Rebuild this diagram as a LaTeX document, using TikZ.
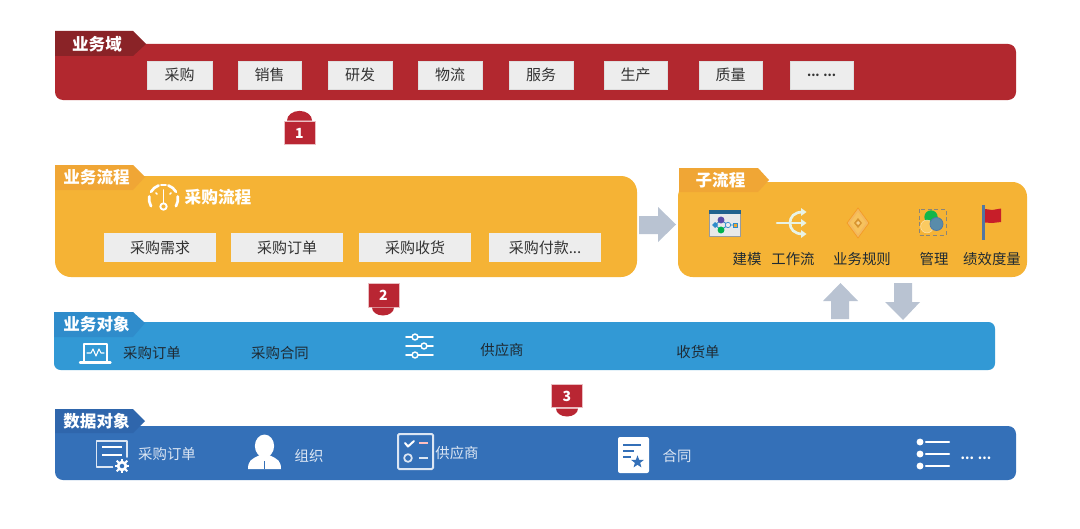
\documentclass[tikz,border=0pt]{standalone}
\usepackage{fontspec}
\setmainfont{Noto Sans CJK SC}
\usetikzlibrary{shapes.geometric}
\definecolor{cRed}{HTML}{B2282F}
\definecolor{cRedT}{HTML}{8A2327}
\definecolor{cOr}{HTML}{F5B335}
\definecolor{cOrT}{HTML}{F0A635}
\definecolor{cBl}{HTML}{3299D5}
\definecolor{cBlT}{HTML}{2F8CCB}
\definecolor{cDb}{HTML}{3470B8}
\definecolor{cDbT}{HTML}{2F66AC}
\definecolor{cBox}{HTML}{EDEDED}
\definecolor{cTxt}{HTML}{333333}
\definecolor{cArr}{HTML}{B9C3D2}
\definecolor{cBadge}{HTML}{B92633}
\definecolor{cDark}{HTML}{1F2A33}
\definecolor{cPale}{HTML}{DCE6F3}
\definecolor{cFlow}{HTML}{E8F3E6}
\tikzset{
  panel/.style={rectangle,inner sep=0pt,outer sep=0pt,rounded corners=#1,anchor=north west},
  panel/.default=6pt,
  itembox/.style={rectangle,fill=cBox,draw=white!75!gray,line width=.4pt,inner sep=0pt,text=cTxt,font=\fontsize{11.25}{12}\selectfont,minimum height=21.5pt},
  tabtext/.style={text=white,font=\fontsize{12.4}{13}\selectfont\bfseries,inner sep=0pt},
  lab/.style={inner sep=0pt,font=\fontsize{10.8}{12}\selectfont},
  darklab/.style={lab,text=cDark},
  palelab/.style={lab,text=cPale},
  badge/.style={rectangle,fill=cBadge,draw=white!70!cBadge,line width=.5pt,inner sep=0pt,minimum width=23.2pt,minimum height=17.6pt,text=white,font=\fontsize{10.5}{11}\selectfont\bfseries},
  ico/.style={draw=white,line width=1.3pt,line cap=round,line join=round},
}
\begin{document}
\begin{tikzpicture}[x=0.75pt,y=-0.75pt]
\useasboundingbox (0,0) rectangle (1080,528);
\fill[white] (0,0) rectangle (1080,528);

% ---------- panels
\node[panel=6pt,fill=cRed,minimum width=720.75pt,minimum height=42pt] (red) at (55,44) {};
\node[panel=12pt,fill=cOr,minimum width=436.5pt,minimum height=75.75pt] (orange) at (55,176) {};
\node[panel=11pt,fill=cOr,minimum width=261.75pt,minimum height=71.25pt] (sub) at (678,182) {};
\node[panel=5pt,fill=cBl,minimum width=705.75pt,minimum height=36pt] (blue) at (54,322) {};
\node[panel=6pt,fill=cDb,minimum width=720.75pt,minimum height=40.5pt] (dblue) at (55,426) {};

% ---------- tabs
\fill[cRedT] (55,31) -- (133,31) -- (146,44) -- (133,56) -- (55,56) -- cycle;
\node[tabtext] (t1) at (97,44) {业务域};
\fill[cOrT] (55,165) -- (133,165) -- (145,177) -- (133,190) -- (55,190) -- cycle;
\node[tabtext] (t2) at (96.5,177) {业务流程};
\fill[cOrT] (679,168) -- (758,168) -- (769,180) -- (758,192) -- (679,192) -- cycle;
\node[tabtext] (t3) at (720.5,180) {子流程};
\fill[cBlT] (54,312) -- (133,312) -- (145,323) -- (133,337) -- (54,337) -- cycle;
\node[tabtext] (t4) at (96.5,324) {业务对象};
\fill[cDbT] (55,409) -- (133,409) -- (145,421) -- (133,433) -- (55,433) -- cycle;
\node[tabtext] (t5) at (96.5,421) {数据对象};

% ---------- domain boxes
\foreach \n/\cx/\w/\t in {a/179.5/48.5/采购,b/269.5/47.5/销售,c/360/48/研发,d/450/48/物流,e/541/48/服务,f/635.5/47.5/生产,g/730.5/47.5/质量}{
  \node[itembox,minimum width=\w pt] (dom\n) at (\cx,75.2) {\t};
}
\node[itembox,minimum width=47.5pt,font=\fontsize{9}{10}\selectfont\bfseries] (domh) at (821.5,75.2) {\raisebox{-1.5pt}{... ...}};

% ---------- process boxes
\foreach \n/\cx/\t in {a/160/采购需求,b/287/采购订单,c/415/采购收货}{
  \node[itembox,minimum width=84pt,minimum height=22pt,draw=none] (proc\n) at (\cx,247.5) {\t};
}
\node[itembox,minimum width=84pt,minimum height=22pt,draw=none] (procd) at (545,247.5) {采购付款...};
\node[text=white,inner sep=0pt,font=\fontsize{12.5}{13}\selectfont\bfseries] (proct) at (218,197) {采购流程};

% gauge icon
\draw[ico,line width=2pt] ([shift={(210:10.8pt)}]163.5,199) arc[start angle=210,end angle=170,radius=10.8pt];
\draw[ico,line width=2pt] ([shift={(150:10.8pt)}]163.5,199) arc[start angle=150,end angle=110,radius=10.8pt];
\draw[ico,line width=2pt] ([shift={(70:10.8pt)}]163.5,199) arc[start angle=70,end angle=30,radius=10.8pt];
\draw[ico,line width=2pt] ([shift={(10:10.8pt)}]163.5,199) arc[start angle=10,end angle=-30,radius=10.8pt];
\draw[ico,line width=1.4pt] ([shift={(100:10.8pt)}]163.5,199) arc[start angle=100,end angle=80,radius=10.8pt];
\draw[ico,line width=1.4pt] (163.5,190) -- (163.5,203);
\draw[ico,line width=1.4pt] (163.5,206.5) circle[radius=2.4pt];
\draw[ico] (156,193) -- (157,194) (171,193) -- (170,194);

% ---------- badges
\node[badge] (b1) at (299.5,133) {1};
\fill[cBadge] (287,120.5) arc[start angle=180,end angle=0,x radius=9.4pt,y radius=7.2pt];
\node[badge] (b2) at (383.5,295.5) {2};
\fill[cBadge] (372,307.5) arc[start angle=180,end angle=360,x radius=8.25pt,y radius=6pt];
\node[badge] (b3) at (567,396) {3};
\fill[cBadge] (556,408.5) arc[start angle=180,end angle=360,x radius=8.25pt,y radius=6pt];

% ---------- block arrows
\fill[cArr] (639,216) -- (658,216) -- (658,207) -- (676,224.5) -- (658,242) -- (658,234) -- (639,234) -- cycle;
\fill[cArr] (831,319) -- (831,301) -- (823,301) -- (840.5,283) -- (858,301) -- (849,301) -- (849,319) -- cycle;
\fill[cArr] (894,283) -- (912,283) -- (912,302) -- (920,302) -- (903,320) -- (885,302) -- (894,302) -- cycle;

% ---------- sub-process labels
\foreach \n/\cx/\t in {a/747/建模,b/793/工作流,c/862/业务规则,d/934/管理,e/992/绩效度量}{
  \node[darklab] (sub\n) at (\cx,259.5) {\t};
}
% modelling icon
\fill[gray!60!cArr] (709,210) rectangle (741,236.5);
\fill[cBox!90!cArr] (710,214) rectangle (740,235.5);
\fill[cBlT!70!black] (709,210) rectangle (741,214);
\draw[cBlT,line width=.7pt] (715,225) -- (721,220) -- (728,225) -- (721,230) -- cycle (728,225) -- (735,225);
\fill[cBlT] (715,222) -- (718,225) -- (715,228) -- (712,225) -- cycle;
\fill[violet!50!cBl] (721,220) circle[radius=2.6pt];
\fill[green!40!teal] (721,230) circle[radius=2.6pt];
\fill[cBox] (728,225) circle[radius=2pt];
\draw[cBlT,line width=.5pt] (728,225) circle[radius=2pt];
\fill[cOrT] (733,223) rectangle (737,227);
\draw[cBlT,line width=.4pt] (733,223) rectangle (737,227);
% workflow icon
\draw[cFlow,line width=2pt,line cap=round] (777,223) -- (804,223);
\draw[cFlow,line width=2pt] (803,212) .. controls (794,212) and (790,217) .. (790,223) .. controls (790,229) and (794,234) .. (803,234);
\fill[cFlow] (801,208) -- (806.5,212) -- (801,216) -- cycle (801,219) -- (806.5,223) -- (801,227) -- cycle (801,230) -- (806.5,234) -- (801,238) -- cycle;
% rule icon
\fill[white!20!cOrT,draw=orange!30!cOrT,line width=.5pt] (858,208) -- (869,223) -- (858,238) -- (847,223) -- cycle;
\fill[cOr!80!white] (858,212) -- (866,223) -- (858,234) -- (850,223) -- cycle;
\fill[cOrT!90!black] (858,218) -- (862,223) -- (858,228) -- (854,223) -- cycle;
\fill[cOr!60!white] (858,221) -- (860,223) -- (858,225) -- (856,223) -- cycle;
% management icon
\draw[gray!90!cOr,densely dashed,line width=.5pt] (919,209) rectangle (946,235);
\fill[green!50!teal!85!gray] (931,217) circle[radius=5pt];
\fill[yellow!35!orange!60!white,draw=white!60!cOr,line width=.4pt] (927,226.5) circle[radius=4.8pt];
\fill[cBl!50!gray,draw=cDb!70!gray,line width=.5pt] (936.5,224) circle[radius=4.9pt];
% flag icon
\fill[gray!40!cDb] (982,205) rectangle (984.5,240);
\fill[cBadge!80!red] (985,209) -- (992,210) -- (1001,208.5) -- (1001,222) -- (992,223) -- (985,222.5) -- cycle;

% ---------- business objects
\node[darklab] (ob1) at (152,353.5) {采购订单};
\node[darklab] (ob2) at (280,353.5) {采购合同};
\node[darklab] (ob3) at (502,350) {供应商};
\node[darklab] (ob4) at (698,352) {收货单};
% monitor icon
\draw[ico] (84,361) -- (84,344) -- (107,344) -- (107,361);
\draw[ico,line width=1.8pt] (80,362.5) -- (110.5,362.5);
\draw[ico,line width=.8pt] (87,353) -- (91,353) -- (93,349) -- (96,356) -- (99,349) -- (101,353) -- (104,353);
% slider icon
\draw[ico] (406,337) -- (433,337) (406,346) -- (433,346) (406,355) -- (433,355);
\foreach \n/\kx/\ky in {a/415/337,b/424/346,c/415/355}{
  \draw[ico,line width=1.1pt,fill=cBl] (\kx,\ky) circle[radius=2.2pt];
}

% ---------- data objects
\node[palelab] (da1) at (167,454.5) {采购订单};
\node[palelab] (da2) at (309,456) {组织};
\node[palelab] (da3) at (457,453) {供应商};
\node[palelab] (da4) at (677,456) {合同};
\node[text=white,inner sep=0pt,font=\fontsize{9.5}{11}\selectfont\bfseries] (da5) at (976,458) {... ...};
% document + gear icon
\draw[ico,draw=cPale] (117,467) -- (96.5,467) -- (96.5,441) -- (127,441) -- (127,457);
\draw[ico,line width=2pt,line cap=butt] (102,447) -- (122,447) (102,455) -- (122,455);
\fill[cDb] (122,466) circle[radius=6.8pt];
\fill[white] (122,466) circle[radius=4pt];
\foreach \a in {0,45,315,90,135,180,225,270}{ \draw[white,line width=1.5pt] ([shift={(\a:3pt)}]122,466) -- ([shift={(\a:5.6pt)}]122,466); }
\fill[cDb] (122,466) circle[radius=1.7pt];
% person icon
\fill[white] (264.5,446) ellipse[x radius=7.2pt,y radius=8.6pt];
\fill[white] (248,469) .. controls (248,461) and (251,459) .. (260,455) -- (269,455) .. controls (278,459) and (281,461) .. (281,469) -- cycle;
\draw[cDb,line width=.4pt] (264.5,461) -- (264.5,469);
% checklist icon
\draw[draw=cPale,line width=1.5pt,rounded corners=1pt] (398,434) rectangle (433,469);
\draw[ico,line width=1.5pt] (405,443) -- (408,446.5) -- (414,441);
\draw[draw=pink,line width=1.6pt] (419,443) -- (428,443);
\draw[ico,draw=cPale,line width=1.3pt] (408,458) circle[radius=2.9pt];
\draw[cPale,line width=1.6pt] (419,458) -- (428,458);
% contract icon
\fill[white,rounded corners=1.5pt] (618,437) rectangle (649,473);
\draw[cDb,line width=1.4pt] (623,445) -- (641,445) (623,451) -- (634,451) (623,457) -- (631,457);
\node[star,star points=5,star point ratio=2.4,fill=cDb,inner sep=0pt,minimum size=10pt] (starx) at (637.5,462) {};
% list icon
\foreach \ly in {442,454,466}{
  \fill[white] (920,\ly) circle[radius=2.6pt];
  \draw[white,line width=1.8pt,line cap=round] (926,\ly) -- (949,\ly);
}
\end{tikzpicture}
\end{document}
